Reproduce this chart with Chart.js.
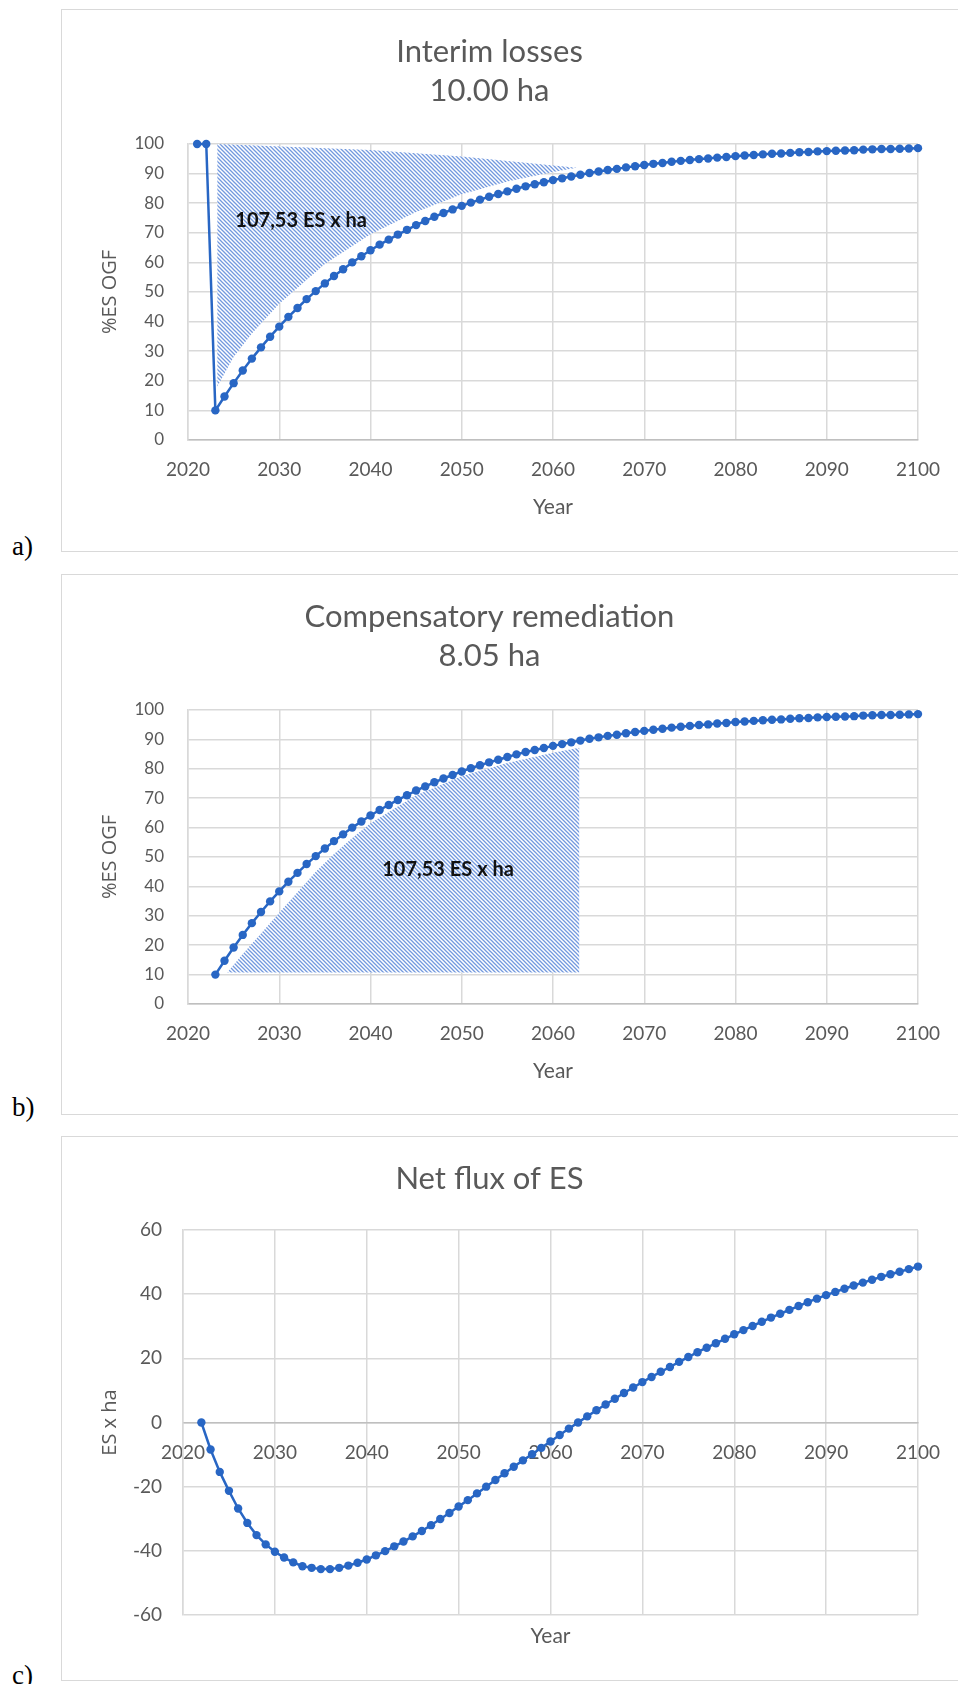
<!DOCTYPE html>
<html>
<head>
<meta charset="utf-8">
<script src="https://cdn.jsdelivr.net/npm/chart.js@4.4.1/dist/chart.umd.min.js"></script>
<style>
  html, body { margin: 0; padding: 0; background: #fff; }
  body { width: 958px; height: 1684px; position: relative; overflow: hidden; }
  .frame { position: absolute; left: 61px; width: 910px; border: 1.5px solid #d9d9d9; box-sizing: border-box; }
  .box { position: absolute; left: 61px; width: 910px; }
  .tag { position: absolute; left: 12px; font: 27px "Liberation Serif", "Times New Roman", serif; color: #000; line-height: 1; }
</style>
</head>
<body>
<div class="frame" style="top:9px;height:543px"></div>
<div class="box" style="top:9px;height:543px"><canvas id="chartA"></canvas></div>
<div class="tag" style="top:533px">a)</div>

<div class="frame" style="top:574px;height:541px"></div>
<div class="box" style="top:574px;height:541px"><canvas id="chartB"></canvas></div>
<div class="tag" style="top:1094px">b)</div>

<div class="frame" style="top:1136px;height:545px"></div>
<div class="box" style="top:1136px;height:545px"><canvas id="chartC"></canvas></div>
<div class="tag" style="top:1662px">c)</div>

<script>
// years 2021-2100
const years = [2021, 2022, 2023, 2024, 2025, 2026, 2027, 2028, 2029, 2030,
  2031, 2032, 2033, 2034, 2035, 2036, 2037, 2038, 2039, 2040,
  2041, 2042, 2043, 2044, 2045, 2046, 2047, 2048, 2049, 2050,
  2051, 2052, 2053, 2054, 2055, 2056, 2057, 2058, 2059, 2060,
  2061, 2062, 2063, 2064, 2065, 2066, 2067, 2068, 2069, 2070,
  2071, 2072, 2073, 2074, 2075, 2076, 2077, 2078, 2079, 2080,
  2081, 2082, 2083, 2084, 2085, 2086, 2087, 2088, 2089, 2090,
  2091, 2092, 2093, 2094, 2095, 2096, 2097, 2098, 2099, 2100];

// %ES OGF before the loss (2021, 2022)
const lossStart = [100, 100];

// %ES OGF recovery, 2023-2100
const recovery = [10, 14.7, 19.2, 23.5, 27.5, 31.3, 34.9, 38.3, 41.6, 44.6,
  47.6, 50.3, 52.9, 55.4, 57.7, 60.0, 62.1, 64.1, 66.0, 67.7,
  69.4, 71.0, 72.6, 74.0, 75.4, 76.7, 77.9, 79.1, 80.2, 81.2,
  82.2, 83.1, 84.0, 84.9, 85.7, 86.4, 87.1, 87.8, 88.4, 89.0,
  89.6, 90.2, 90.7, 91.2, 91.6, 92.1, 92.5, 92.9, 93.3, 93.6,
  94.0, 94.3, 94.6, 94.9, 95.1, 95.4, 95.6, 95.9, 96.1, 96.3,
  96.5, 96.7, 96.8, 97.0, 97.2, 97.3, 97.5, 97.6, 97.7, 97.8,
  97.9, 98.1, 98.2, 98.3, 98.3, 98.4, 98.5, 98.6];

// net flux of ES x ha, 2022-2100
const netFlux = [0, -8.4, -15.4, -21.3, -26.8, -31.3, -35.1, -38.0, -40.3,
  -42.1, -43.6, -44.8, -45.3, -45.7, -45.7, -45.3, -44.6, -43.7, -42.7,
  -41.4, -40.1, -38.6, -37.1, -35.5, -33.8, -32.0, -30.1, -28.2, -26.2,
  -24.2, -22.1, -20.0, -17.9, -15.8, -13.8, -11.8, -9.9, -7.9, -5.9,
  -3.9, -1.9, 0.0, 1.9, 3.8, 5.6, 7.4, 9.2, 10.9, 12.6,
  14.2, 15.8, 17.3, 18.9, 20.4, 21.9, 23.3, 24.7, 26.1, 27.5,
  28.8, 30.1, 31.4, 32.7, 33.9, 35.1, 36.3, 37.5, 38.6, 39.7,
  40.7, 41.7, 42.7, 43.6, 44.5, 45.4, 46.2, 47.0, 47.8, 48.6];

// hatched shape a) : upper and lower edges
const hatchATopX = [2023.2, 2040, 2050, 2062.6];
const hatchATopY = [100, 98, 95.8, 92];
const hatchALowX = [2023.2, 2025, 2027, 2030, 2035, 2040, 2045, 2050, 2055, 2060, 2062.6];
const hatchALowY = [18, 28, 36, 46, 59.5, 69.5, 77, 83, 87.3, 90.5, 92];

// hatched shape b) : upper and lower edges
const hatchBTopX = [2024.3, 2026, 2028, 2030, 2032, 2034, 2036, 2038, 2040, 2045, 2050, 2055, 2060, 2062.9];
const hatchBTopY = [10.7, 17, 24, 31, 38, 45, 51, 56.5, 61.5, 71, 77.5, 82, 85.5, 87.2];
const hatchBLowX = [2024.3, 2062.9];
const hatchBLowY = [10.7, 10.7];

const xTicks = [2020, 2030, 2040, 2050, 2060, 2070, 2080, 2090, 2100];
const pctTicks = [0, 10, 20, 30, 40, 50, 60, 70, 80, 90, 100];
const fluxTicks = [-60, -40, -20, 0, 20, 40, 60];

const blue = '#2866c4';
const gridGrey = '#d9d9d9';
const textGrey = '#595959';

function pts(xs, ys) {
  return xs.map((x, i) => ({ x: x, y: ys[i] }));
}

function hatchPattern() {
  const c = document.createElement('canvas');
  c.width = 4; c.height = 4;
  const g = c.getContext('2d');
  g.fillStyle = '#fff';
  g.fillRect(0, 0, 4, 4);
  g.strokeStyle = '#7399de';
  g.lineWidth = 1.3;
  g.beginPath();
  g.moveTo(-1, -1); g.lineTo(5, 5);
  g.moveTo(-1, 3); g.lineTo(1, 5);
  g.moveTo(3, -1); g.lineTo(5, 1);
  g.stroke();
  return g.createPattern(c, 'repeat');
}

const areaLabel = {
  id: 'areaLabel',
  afterDatasetsDraw(chart, args, opts) {
    if (!opts || !opts.text) return;
    const { ctx, scales } = chart;
    ctx.save();
    ctx.font = 'bold 20px Lato';
    ctx.fillStyle = '#111';
    ctx.textAlign = 'center';
    ctx.textBaseline = 'middle';
    ctx.fillText(opts.text, scales.x.getPixelForValue(opts.x), scales.y.getPixelForValue(opts.y));
    ctx.restore();
  }
};

function curveSet(data) {
  return {
    data: data, order: 0, clip: 8,
    borderColor: blue, backgroundColor: blue, borderWidth: 2.5,
    pointRadius: 4.2, pointBorderWidth: 0, pointBackgroundColor: blue,
    tension: 0, fill: false
  };
}

function hatchSets(top, low) {
  return [
    { data: top, order: 1, fill: '+1', backgroundColor: hatchPattern(),
      borderWidth: 0, pointRadius: 0, tension: 0 },
    { data: low, order: 2, fill: false, borderWidth: 0, pointRadius: 0, tension: 0 }
  ];
}

function makeOptions(p) {
  return {
    responsive: true, maintainAspectRatio: false, animation: false,
    layout: { padding: { left: 0, right: 53, top: 0, bottom: p.padBottom } },
    plugins: {
      legend: { display: false },
      tooltip: { enabled: false },
      title: {
        display: true, text: p.title, color: textGrey,
        font: { family: 'Lato', size: 31, weight: 'normal', lineHeight: '39px' },
        padding: { top: 23.5, bottom: p.titleGap }
      },
      areaLabel: p.label || {}
    },
    scales: {
      x: {
        type: 'linear', min: 2020, max: 2100, position: p.xPos,
        afterBuildTicks: s => { s.ticks = xTicks.map(v => ({ value: v })); },
        afterFit: s => { s.height = p.xHeight; },
        grid: { color: gridGrey, lineWidth: 1.5, drawTicks: false },
        border: { color: '#bfbfbf', width: 1.5 },
        ticks: { padding: 18.6, color: textGrey, font: { family: 'Lato', size: 19 },
          maxRotation: 0, autoSkip: false, callback: v => String(v) },
        title: { display: true, text: 'Year', color: textGrey,
          font: { family: 'Lato', size: 21 }, padding: { top: 0, bottom: p.yearPad } }
      },
      y: {
        type: 'linear', min: p.yMin, max: p.yMax,
        afterBuildTicks: s => { s.ticks = p.yTicks.map(v => ({ value: v })); },
        afterFit: s => { s.width = p.yWidth; },
        grid: { color: gridGrey, lineWidth: 1.5, drawTicks: false },
        border: { color: gridGrey, width: 1.5 },
        ticks: { padding: p.yTickPad, color: textGrey, font: { family: 'Lato', size: p.yTickSize } },
        title: { display: true, text: p.yTitle, color: textGrey,
          font: { family: 'Open Sans', size: 20 }, padding: { top: 37, bottom: 0 } }
      }
    }
  };
}

// a) Interim losses
new Chart(document.getElementById('chartA'), {
  type: 'line',
  data: {
    datasets: [curveSet(pts(years, lossStart.concat(recovery)))]
      .concat(hatchSets(pts(hatchATopX, hatchATopY), pts(hatchALowX, hatchALowY)))
  },
  options: makeOptions({
    title: ['Interim losses', '10.00 ha'], titleGap: 33.5, padBottom: 0,
    xPos: 'bottom', xHeight: 112, yearPad: 32.4,
    yMin: 0, yMax: 100, yTicks: pctTicks, yWidth: 127, yTickPad: 24, yTickSize: 17,
    yTitle: '%ES OGF',
    label: { text: '107,53 ES x ha', x: 2032.4, y: 74.3 }
  }),
  plugins: [areaLabel]
});

// b) Compensatory remediation
new Chart(document.getElementById('chartB'), {
  type: 'line',
  data: {
    datasets: [curveSet(pts(years.slice(2), recovery))]
      .concat(hatchSets(pts(hatchBTopX, hatchBTopY), pts(hatchBLowX, hatchBLowY)))
  },
  options: makeOptions({
    title: ['Compensatory remediation', '8.05 ha'], titleGap: 34.5, padBottom: 0,
    xPos: 'bottom', xHeight: 111, yearPad: 31.4,
    yMin: 0, yMax: 100, yTicks: pctTicks, yWidth: 127, yTickPad: 24, yTickSize: 17,
    yTitle: '%ES OGF',
    label: { text: '107,53 ES x ha', x: 2048.5, y: 45.7 }
  }),
  plugins: [areaLabel]
});

// c) Net flux of ES
new Chart(document.getElementById('chartC'), {
  type: 'line',
  data: {
    datasets: [curveSet(pts(years.slice(1), netFlux))]
  },
  options: makeOptions({
    title: 'Net flux of ES', titleGap: 31.5, padBottom: 66,
    xPos: { y: 0 }, xHeight: 226.6, yearPad: 0,
    yMin: -60, yMax: 60, yTicks: fluxTicks, yWidth: 122, yTickPad: 21, yTickSize: 19,
    yTitle: 'ES x ha'
  })
});
</script>
</body>
</html>
